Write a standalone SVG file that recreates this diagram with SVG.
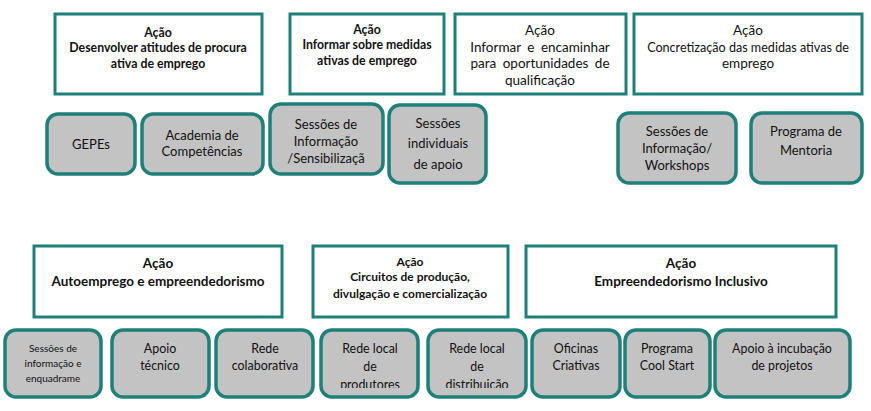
<svg xmlns="http://www.w3.org/2000/svg" width="871" height="411" viewBox="0 0 871 411">
<style>
.hdr{fill:#ffffff;stroke:#1f7f79;stroke-width:3}
.itm{fill:#c3c3c3;stroke:#1f7f79;stroke-width:3.5}
text{font-family:"Lato","Open Sans","Liberation Sans",sans-serif;fill:#111;text-anchor:middle}
.b{font-weight:bold}
.s11{font-size:12.3px}
.s12{font-size:12.6px}
.s13{font-size:13px}
.s135{font-size:13.5px}
.s123{font-size:12.4px}
.s10{font-size:10px}
</style>
<defs>
<clipPath id="c1"><rect x="270" y="104" width="112" height="66"/></clipPath>
<clipPath id="c2"><rect x="5" y="330" width="96" height="67"/></clipPath>
<clipPath id="c3"><rect x="321" y="330" width="97" height="58"/></clipPath>
<clipPath id="c4"><rect x="428" y="330" width="98" height="58"/></clipPath>
</defs>
<rect width="871" height="411" fill="#ffffff"/>
<g id="connectors"></g>
<g id="h1"><rect class="hdr" x="55" y="14" width="207" height="80"/>
<text class="b s11" x="158" y="37">Ação</text>
<text class="b s11" x="158" y="52">Desenvolver atitudes de procura</text>
<text class="b s11" x="158" y="68">ativa de emprego</text></g>
<g id="h2"><rect class="hdr" x="290" y="14" width="154" height="80"/>
<text class="b s11" x="367" y="34">Ação</text>
<text class="b s11" x="367" y="49">Informar sobre medidas</text>
<text class="b s11" x="367" y="65">ativas de emprego</text></g>
<g id="h3"><rect class="hdr" x="455" y="14" width="171" height="80"/>
<text class="s135" x="540" y="35">Ação</text>
<text class="s135" x="540" y="52" word-spacing="3">Informar e encaminhar</text>
<text class="s135" x="540" y="68" word-spacing="3">para oportunidades de</text>
<text class="s135" x="540" y="85">qualificação</text></g>
<g id="h4"><rect class="hdr" x="634" y="14" width="228" height="80"/>
<text class="s135" x="748" y="35">Ação</text>
<text class="s12" x="748" y="52">Concretização das medidas ativas de</text>
<text class="s135" x="748" y="68">emprego</text></g>
<g id="i1"><rect class="itm" x="47" y="114" width="88" height="60" rx="11"/>
<text class="s13" x="91" y="149">GEPEs</text></g>
<g id="i2"><rect class="itm" x="142" y="114" width="121" height="60" rx="11"/>
<text class="s13" x="202" y="140">Academia de</text>
<text class="s13" x="202" y="156">Competências</text></g>
<g id="i3"><rect class="itm" x="270" y="104" width="113" height="70" rx="11"/>
<g clip-path="url(#c1)"><text class="s13" x="326" y="129">Sessões de</text>
<text class="s13" x="326" y="146">Informação</text>
<text class="s13" x="326" y="163">/Sensibilizaçã</text></g></g>
<g id="i4"><rect class="itm" x="389" y="105" width="97" height="78" rx="11"/>
<text class="s13" x="438" y="128">Sessões</text>
<text class="s13" x="438" y="148">individuais</text>
<text class="s13" x="438" y="169">de apoio</text></g>
<g id="i5"><rect class="itm" x="618" y="113" width="118" height="70" rx="11"/>
<text class="s13" x="677" y="136">Sessões de</text>
<text class="s13" x="677" y="153">Informação/</text>
<text class="s13" x="677" y="170">Workshops</text></g>
<g id="i6"><rect class="itm" x="751" y="113" width="111" height="70" rx="11"/>
<text class="s13" x="806" y="136">Programa de</text>
<text class="s13" x="806" y="155">Mentoria</text></g>
<g id="h5"><rect class="hdr" x="34" y="246" width="248" height="71"/>
<text class="b s135" x="158" y="268">Ação</text>
<text class="b s135" x="158" y="286">Autoemprego e empreendedorismo</text></g>
<g id="h6"><rect class="hdr" x="313" y="246" width="195" height="71"/>
<text class="b" style="font-size:12px" x="410" y="266">Ação</text>
<text class="b" style="font-size:12px" x="410" y="281">Circuitos de produção,</text>
<text class="b" style="font-size:12px" x="410" y="298">divulgação e comercialização</text></g>
<g id="h7"><rect class="hdr" x="526" y="246" width="310" height="71"/>
<text class="b s135" x="681" y="268">Ação</text>
<text class="b s135" x="681" y="286">Empreendedorismo Inclusivo</text></g>
<g id="b1"><rect class="itm" x="5" y="330" width="96" height="67" rx="11"/>
<g clip-path="url(#c2)"><text class="s10" x="53" y="352">Sessões de</text>
<text class="s10" x="53" y="367">informação e</text>
<text class="s10" x="53" y="382">enquadrame</text></g></g>
<g id="b2"><rect class="itm" x="112" y="330" width="97" height="67" rx="11"/>
<text class="s123" x="160" y="353">Apoio</text>
<text class="s123" x="160" y="370">técnico</text></g>
<g id="b3"><rect class="itm" x="216" y="330" width="97" height="67" rx="11"/>
<text class="s123" x="265" y="353">Rede</text>
<text class="s123" x="265" y="370">colaborativa</text></g>
<g id="b4"><rect class="itm" x="321" y="330" width="97" height="67" rx="11"/>
<g clip-path="url(#c3)"><text class="s123" x="370" y="353">Rede local</text>
<text class="s123" x="370" y="371">de</text>
<text class="s123" x="370" y="389">produtores</text></g></g>
<g id="b5"><rect class="itm" x="428" y="330" width="98" height="67" rx="11"/>
<g clip-path="url(#c4)"><text class="s123" x="477" y="353">Rede local</text>
<text class="s123" x="477" y="371">de</text>
<text class="s123" x="477" y="389">distribuicão</text></g></g>
<g id="b6"><rect class="itm" x="532" y="330" width="88" height="67" rx="11"/>
<text class="s123" x="576" y="353">Oficinas</text>
<text class="s123" x="576" y="370">Criativas</text></g>
<g id="b7"><rect class="itm" x="625" y="330" width="85" height="67" rx="11"/>
<text class="s123" x="667" y="353">Programa</text>
<text class="s123" x="667" y="370">Cool Start</text></g>
<g id="b8"><rect class="itm" x="715" y="330" width="135" height="67" rx="11"/>
<text class="s123" x="782" y="353">Apoio à incubação</text>
<text class="s123" x="782" y="370">de projetos</text></g>
</svg>
